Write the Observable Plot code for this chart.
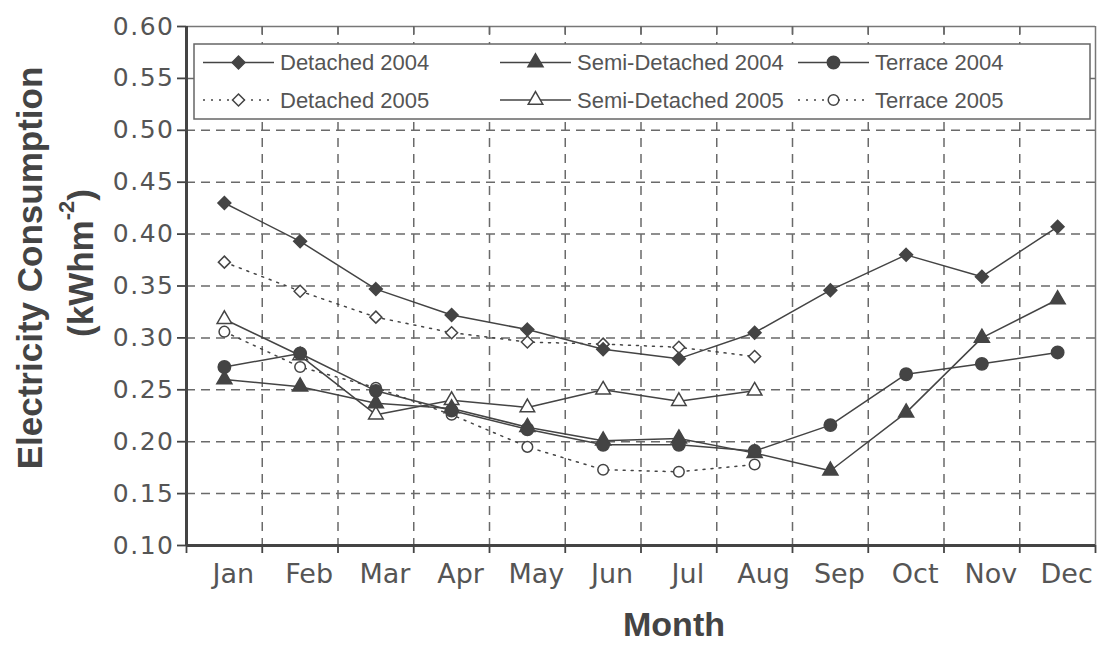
<!DOCTYPE html>
<html><head><meta charset="utf-8">
<script src="https://cdn.jsdelivr.net/npm/d3@7"></script>
<script src="https://cdn.jsdelivr.net/npm/@observablehq/plot@0.6"></script>
<style>
body{margin:0;background:#fff;}
svg{display:block}
[aria-label="y-axis tick label"] text{letter-spacing:1.5px}
</style>
</head><body><div id="chart"></div>
<script>
const months = ["Jan","Feb","Mar","Apr","May","Jun","Jul","Aug","Sep","Oct","Nov","Dec"];
const yTicks = [0.10,0.15,0.20,0.25,0.30,0.35,0.40,0.45,0.50,0.55,0.60];

const detached2004 = [0.430,0.393,0.347,0.322,0.308,0.289,0.280,0.305,0.346,0.380,0.359,0.407];
const detached2005 = [0.373,0.345,0.320,0.305,0.296,0.294,0.291,0.282];
const semi2004     = [0.260,0.253,0.237,0.232,0.214,0.201,0.203,0.189,0.172,0.228,0.300,0.337];
const semi2005     = [0.318,0.283,0.226,0.240,0.233,0.250,0.239,0.249];
const terrace2004  = [0.272,0.285,0.249,0.230,0.212,0.197,0.197,0.191,0.216,0.265,0.275,0.286];
const terrace2005  = [0.306,0.272,0.252,0.226,0.195,0.173,0.171,0.178];

const ink = "#444";
const series = [
  {name:"Semi-Detached 2005", values:semi2005, symbol:"triangle", r:5.4, fill:"#fff", dash:null},
  {name:"Terrace 2005", values:terrace2005, symbol:"circle", r:5.3, fill:"#fff", dash:"2,6"},
  {name:"Detached 2005", values:detached2005, symbol:"diamond2", r:5.4, fill:"#fff", dash:"2,6"},
  {name:"Detached 2004", values:detached2004, symbol:"diamond2", r:5.8, fill:ink, dash:null},
  {name:"Semi-Detached 2004", values:semi2004, symbol:"triangle", r:5.6, fill:ink, dash:null},
  {name:"Terrace 2004", values:terrace2004, symbol:"circle", r:6.2, fill:ink, dash:null}
];
const legendOrder = ["Detached 2004","Semi-Detached 2004","Terrace 2004","Detached 2005","Semi-Detached 2005","Terrace 2005"];

const W = 1102, H = 645, mL = 186, mR = 7, mT = 26, mB = 100;
const plotW = W - mL - mR, plotH = H - mT - mB;

const dataMarks = series.flatMap(s => {
  const rows = s.values.map((v,i) => ({x:i+0.5, y:v}));
  return [
    Plot.line(rows, {x:"x", y:"y", stroke:ink, strokeWidth:1.5, strokeDasharray:s.dash}),
    Plot.dot(rows, {x:"x", y:"y", symbol:s.symbol, r:s.r, fill:s.fill, stroke:ink, strokeWidth:1.5})
  ];
});

const svg = Plot.plot({
  width:W, height:H,
  marginLeft:mL, marginRight:mR, marginTop:mT, marginBottom:mB,
  x:{domain:[0,12]},
  y:{domain:[0.10,0.60]},
  style:{background:"#fff", color:ink, fontFamily:"DejaVu Sans"},
  marks:[
    Plot.ruleY(yTicks.slice(1,-1), {stroke:"#6a6a6a", strokeWidth:1.5, strokeDasharray:"9,6"}),
    Plot.ruleX(d3.range(1,12), {stroke:"#6a6a6a", strokeWidth:1.5, strokeDasharray:"9,7"}),
    Plot.ruleY([0.60], {stroke:"#777", strokeWidth:1.5}),
    Plot.ruleX([12], {stroke:"#777", strokeWidth:1.5}),
    Plot.ruleX(d3.range(1,12), {stroke:"#666", strokeWidth:1.5, insetBottom:plotH-8}),
    Plot.ruleX(d3.range(0,13), {stroke:ink, strokeWidth:1.8, insetTop:plotH, insetBottom:-8}),
    Plot.ruleY(yTicks, {stroke:ink, strokeWidth:1.8, insetLeft:-9, insetRight:plotW}),
    Plot.ruleX([0], {stroke:ink, strokeWidth:3}),
    Plot.ruleY([0.10], {stroke:ink, strokeWidth:3}),
    Plot.axisY(yTicks, {tickSize:0, tickPadding:12, tickFormat:d3.format(".2f"), fontSize:25, fill:"#555", label:null}),
    Plot.axisX(months.map((m,i)=>i+0.5), {tickSize:0, tickPadding:18, dx:9, tickFormat:d=>months[Math.floor(d)], fontSize:27, fill:"#555", label:null}),
    ...dataMarks
  ]
});
document.getElementById("chart").appendChild(svg);

const root = d3.select(svg);
// legend
const lg = root.append("g").attr("text-anchor","start");
lg.append("rect").attr("x",194).attr("y",44).attr("width",896).attr("height",75)
  .attr("fill","#fff").attr("stroke","#666").attr("stroke-width",1.5);
const colX = [203, 500, 798], rowY = [62.5, 100];
legendOrder.forEach((name, k) => {
  const s = series.find(d => d.name === name);
  const x0 = colX[k % 3], y0 = rowY[Math.floor(k / 3)];
  lg.append("line").attr("x1",x0).attr("x2",x0+71).attr("y1",y0).attr("y2",y0)
    .attr("stroke",ink).attr("stroke-width",1.5).attr("stroke-dasharray", s.dash);
  const sym = {circle:d3.symbolCircle, triangle:d3.symbolTriangle, diamond2:d3.symbolDiamond2}[s.symbol];
  lg.append("path").attr("d", d3.symbol(sym, Math.PI*s.r*s.r)())
    .attr("transform",`translate(${x0+35.5},${y0})`)
    .attr("fill",s.fill).attr("stroke",ink).attr("stroke-width",1.5);
  lg.append("text").attr("x",x0+77).attr("y",y0).attr("dy","0.36em")
    .attr("text-anchor","start")
    .attr("font-family","Liberation Sans, Arial, sans-serif").attr("font-size",22)
    .attr("fill","#555").text(name);
});
// axis titles
const tf = "Liberation Sans, Arial, sans-serif";
root.append("text").attr("transform","translate(42,268) rotate(-90)")
  .attr("text-anchor","middle").attr("font-family",tf).attr("font-weight","bold")
  .attr("font-size",35).attr("fill",ink).text("Electricity Consumption");
const t2 = root.append("text").attr("transform","translate(93,263) rotate(-90)")
  .attr("text-anchor","middle").attr("font-family",tf).attr("font-weight","bold")
  .attr("font-size",35).attr("fill",ink);
t2.append("tspan").text("(kWhm");
t2.append("tspan").attr("dy",-19).attr("font-size",22).text("-2");
t2.append("tspan").attr("dy",19).text(")");
root.append("text").attr("x",674).attr("y",636).attr("text-anchor","middle")
  .attr("font-family",tf).attr("font-weight","bold").attr("font-size",34)
  .attr("fill",ink).text("Month");
</script>
</body></html>
